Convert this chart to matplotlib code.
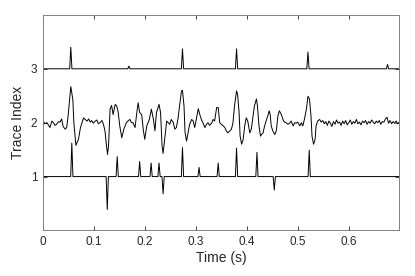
import numpy as np
import matplotlib
matplotlib.use("Agg")
import matplotlib.pyplot as plt

plt.rcParams['font.family'] = ['Liberation Sans', 'DejaVu Sans']

# Trace 3: spike times (s) and amplitudes above baseline 3
t3_spikes = [0.055, 0.169, 0.274, 0.380, 0.520, 0.676]
a3_spikes = [0.40, 0.05, 0.37, 0.37, 0.31, 0.08]

# Trace 1: spike times (s) and amplitudes around baseline 1
t1_spikes = [0.057, 0.1265, 0.146, 0.190, 0.2125, 0.228, 0.236, 0.274, 0.3065,
             0.344, 0.380, 0.420, 0.454, 0.5225]
a1_spikes = [0.62, -0.61, 0.37, 0.28, 0.25, 0.25, -0.32, 0.54, 0.17,
             0.25, 0.53, 0.45, -0.25, 0.49]

# Trace 2: continuous signal (time, value)
t2 = [0.000, 0.001, 0.004, 0.008, 0.011, 0.014, 0.018, 0.021, 0.024, 0.027, 0.031,
      0.034, 0.037, 0.040, 0.044, 0.047, 0.050, 0.055, 0.059, 0.061, 0.065, 0.070,
      0.074, 0.080, 0.083, 0.087, 0.090, 0.093, 0.096, 0.099, 0.103, 0.106, 0.109,
      0.112, 0.116, 0.119, 0.122, 0.125, 0.127, 0.129, 0.132, 0.135, 0.138, 0.142,
      0.145, 0.148, 0.151, 0.155, 0.159, 0.164, 0.168, 0.171, 0.174, 0.177, 0.181,
      0.184, 0.187, 0.190, 0.194, 0.197, 0.200, 0.204, 0.209, 0.213, 0.217, 0.220,
      0.223, 0.228, 0.231, 0.234, 0.236, 0.239, 0.243, 0.246, 0.249, 0.252, 0.256,
      0.259, 0.262, 0.265, 0.269, 0.272, 0.274, 0.277, 0.279, 0.282, 0.285, 0.288,
      0.292, 0.295, 0.298, 0.301, 0.305, 0.308, 0.311, 0.314, 0.318, 0.321, 0.324,
      0.327, 0.331, 0.334, 0.337, 0.341, 0.344, 0.347, 0.350, 0.354, 0.357, 0.360,
      0.363, 0.367, 0.370, 0.373, 0.376, 0.380, 0.382, 0.385, 0.387, 0.390, 0.393,
      0.396, 0.399, 0.402, 0.406, 0.409, 0.412, 0.415, 0.419, 0.421, 0.424, 0.427,
      0.429, 0.432, 0.435, 0.438, 0.442, 0.444, 0.446, 0.448, 0.451, 0.455, 0.458,
      0.461, 0.464, 0.468, 0.471, 0.474, 0.477, 0.481, 0.484, 0.487, 0.491, 0.494,
      0.497, 0.500, 0.504, 0.507, 0.510, 0.513, 0.517, 0.520, 0.523, 0.526, 0.528,
      0.531, 0.534, 0.536, 0.539, 0.543, 0.546, 0.549, 0.552, 0.555, 0.558, 0.561,
      0.564, 0.567, 0.570, 0.573, 0.576, 0.579, 0.582, 0.585, 0.588, 0.591, 0.594,
      0.597, 0.600, 0.603, 0.606, 0.609, 0.612, 0.615, 0.618, 0.621, 0.624, 0.627,
      0.630, 0.633, 0.636, 0.639, 0.642, 0.645, 0.648, 0.651, 0.654, 0.657, 0.660,
      0.663, 0.666, 0.669, 0.672, 0.675, 0.678, 0.681, 0.684, 0.687, 0.690, 0.693,
      0.696, 0.699]
v2 = [2.02, 2.03, 1.98, 2.00, 1.96, 1.91, 2.03, 2.00, 1.95, 1.97, 2.02,
      2.01, 2.07, 1.93, 1.88, 1.91, 2.15, 2.67, 2.43, 2.00, 1.58, 1.69,
      1.91, 2.09, 2.06, 2.03, 2.07, 2.01, 2.04, 1.99, 2.03, 2.05, 1.98,
      2.00, 2.04, 1.97, 1.85, 1.57, 1.41, 1.57, 2.25, 2.32, 2.15, 2.34,
      2.31, 2.19, 1.94, 1.72, 1.88, 2.00, 2.04, 2.06, 2.00, 2.00, 1.91,
      2.15, 2.37, 2.19, 2.15, 1.88, 1.69, 1.94, 2.06, 2.25, 2.06, 1.85,
      2.19, 2.34, 2.19, 1.57, 1.43, 1.69, 2.03, 2.00, 1.97, 2.06, 2.00,
      1.88, 1.91, 2.06, 2.37, 2.59, 2.60, 2.31, 1.82, 1.66, 1.82, 1.97,
      2.06, 2.03, 1.91, 2.06, 2.26, 2.15, 2.06, 2.00, 1.91, 1.97, 2.00,
      1.95, 1.99, 2.06, 2.03, 2.28, 2.28, 2.00, 1.97, 1.94, 1.91, 1.85,
      1.81, 1.85, 1.88, 2.00, 2.31, 2.59, 2.53, 2.19, 1.75, 1.60, 1.69,
      1.94, 2.09, 2.03, 1.81, 1.88, 2.09, 2.31, 2.44, 2.31, 1.94, 1.75,
      1.78, 1.81, 1.94, 2.03, 2.15, 2.22, 2.15, 1.94, 1.85, 1.78, 1.85,
      2.12, 2.22, 2.15, 2.06, 2.01, 2.00, 1.97, 1.99, 2.03, 1.94, 2.00,
      1.99, 2.01, 1.94, 2.00, 1.94, 2.06, 2.25, 2.49, 2.44, 2.12, 1.75,
      1.60, 1.69, 1.94, 2.03, 2.06, 2.01, 2.04, 1.98, 2.02, 1.95, 2.03,
      1.99, 1.93, 2.02, 1.97, 2.05, 1.99, 2.01, 1.95, 2.03, 1.98, 2.04,
      1.96, 2.00, 2.05, 1.97, 2.02, 1.99, 2.06, 1.98, 2.01, 1.96, 2.03,
      2.00, 2.04, 1.97, 2.02, 1.99, 2.05, 2.01, 1.98, 2.03, 2.00, 2.04,
      1.97, 2.02, 2.01, 2.07, 2.10, 1.99, 2.04, 1.98, 2.02, 1.99, 2.03,
      1.98, 2.01]

x_ticks = [0, 0.1, 0.2, 0.3, 0.4, 0.5, 0.6]
x_ticklabels = ['0', '0.1', '0.2', '0.3', '0.4', '0.5', '0.6']
y_ticks = [1, 2, 3]
y_ticklabels = ['1', '2', '3']


def spike_trace(times, amps, base, t_end, half=0.0022):
    xs, ys = [0.0], [base]
    for t, a in sorted(zip(times, amps)):
        xs += [t - half, t, t + half]
        ys += [base, base + a, base]
    xs.append(t_end)
    ys.append(base)
    return xs, ys


t_end = 0.699
fig = plt.figure(figsize=(4.15, 2.76), dpi=100)
ax = fig.add_axes([0.103, 0.165, 0.859, 0.781])

x1, y1 = spike_trace(t1_spikes, a1_spikes, 1.0, t_end)
x3, y3 = spike_trace(t3_spikes, a3_spikes, 3.0, t_end)
ax.plot(x1, y1, color='black', lw=0.7)
ax.plot(t2, v2, color='black', lw=0.7)
ax.plot(x3, y3, color='black', lw=0.7)

ax.set_xlim(0, t_end)
ax.set_ylim(0, 4)
ax.set_xticks(x_ticks)
ax.set_xticklabels(x_ticklabels)
ax.set_yticks(y_ticks)
ax.set_yticklabels(y_ticklabels)
ax.tick_params(direction='in', top=True, right=True, length=3, width=0.6,
               colors='#262626', labelsize=8.5, labelcolor='#262626', pad=4)
for s in ax.spines.values():
    s.set_color('#808080')
    s.set_linewidth(0.7)
ax.set_xlabel('Time (s)', fontsize=10, color='#262626', labelpad=2)
ax.set_ylabel('Trace Index', fontsize=10, color='#262626', labelpad=4)

fig.savefig('out.png', dpi=100)
